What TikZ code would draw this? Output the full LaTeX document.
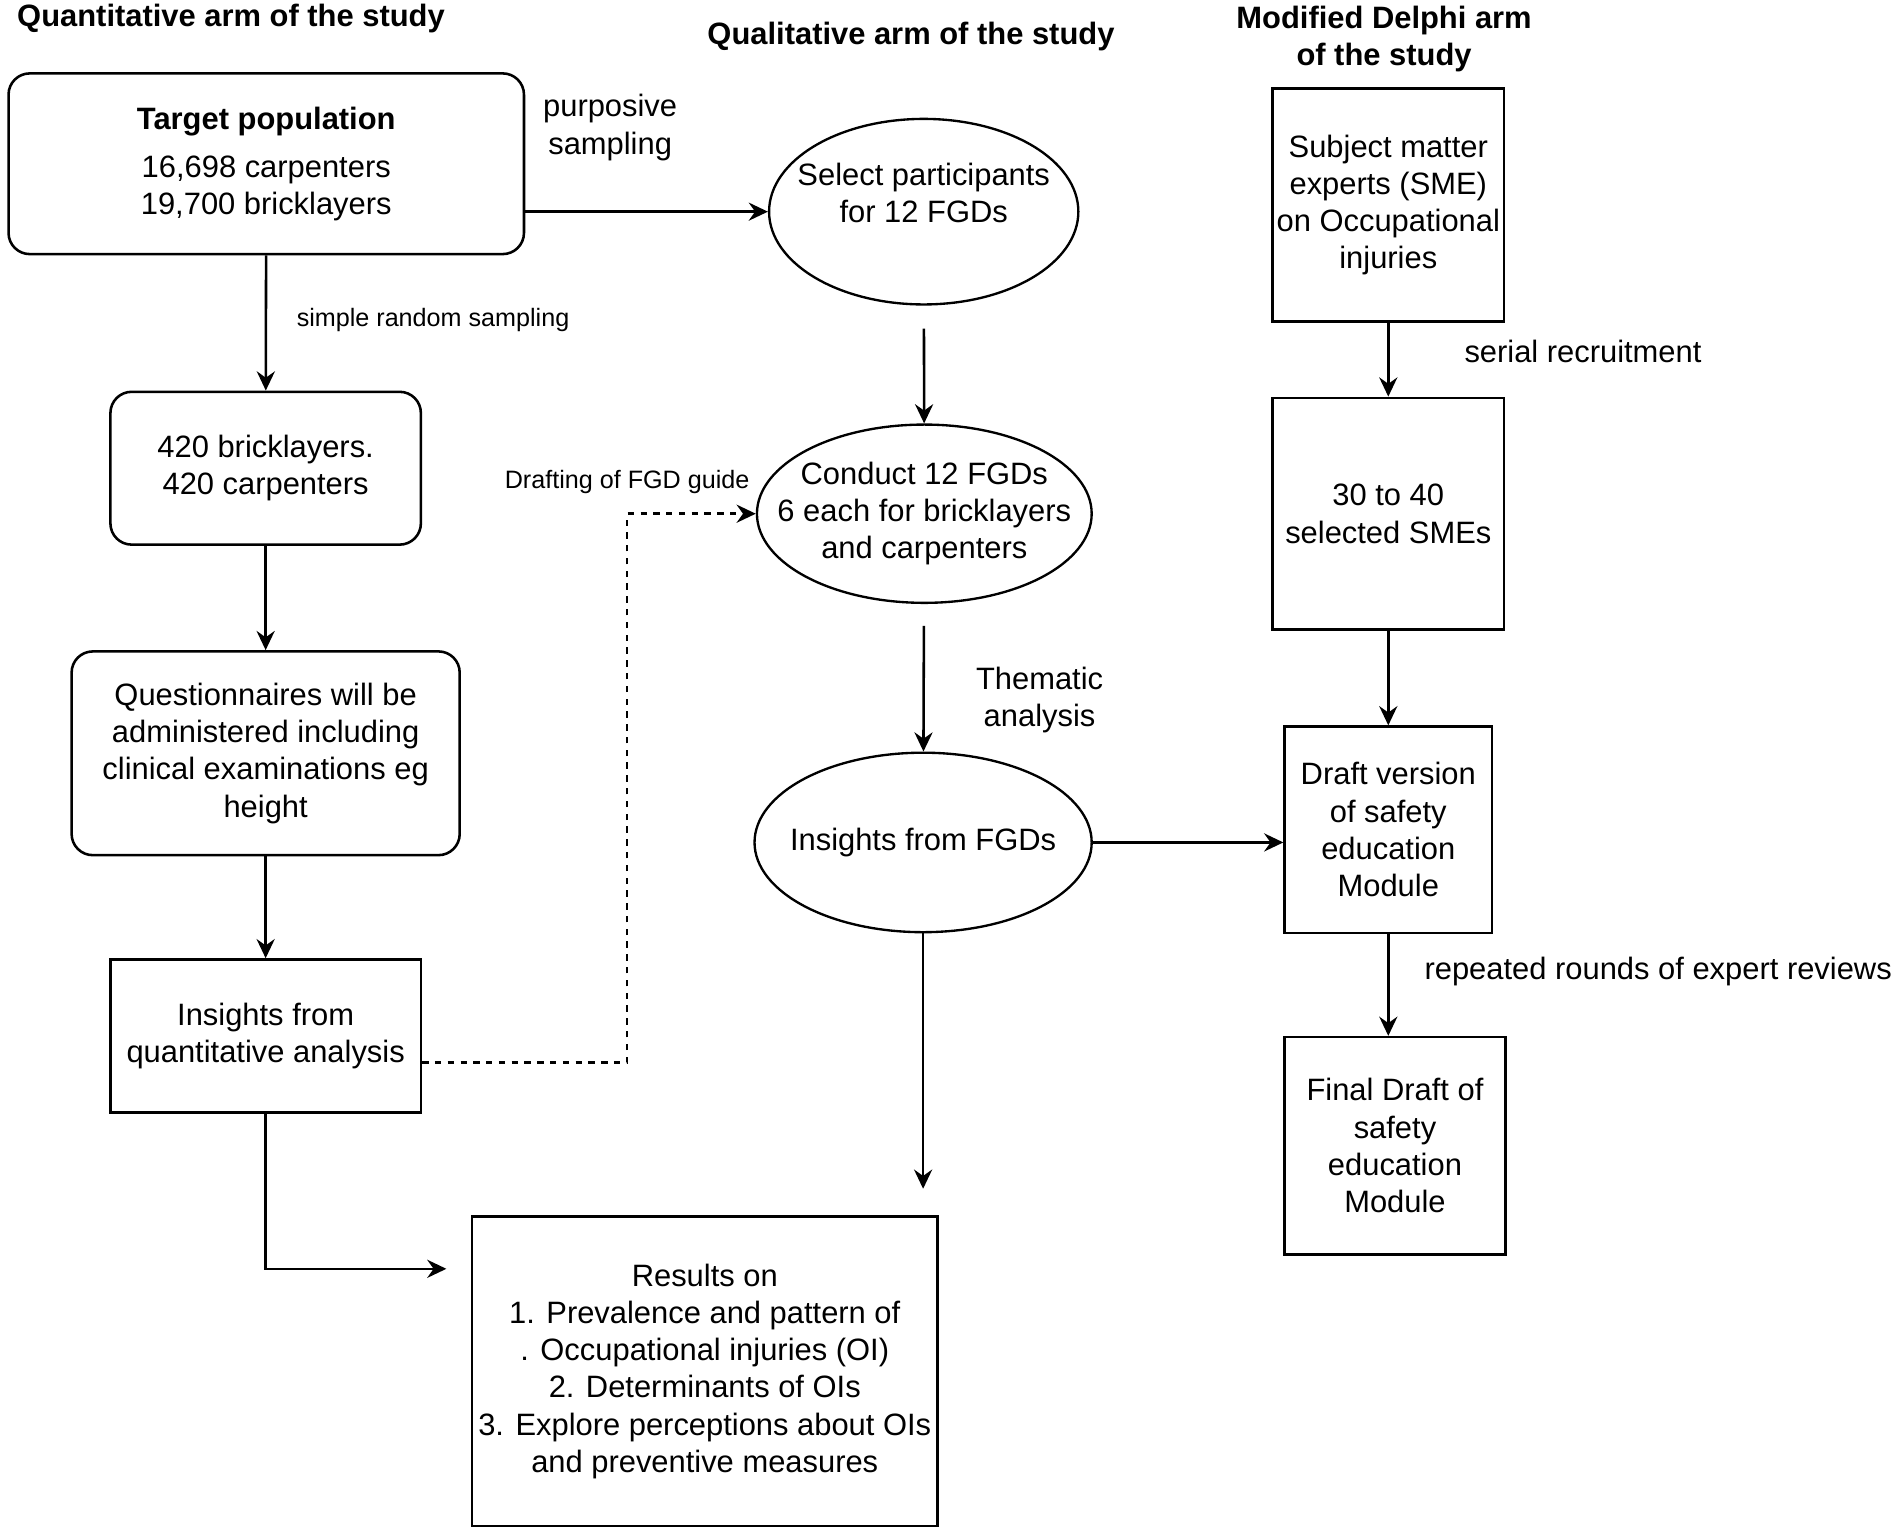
\documentclass[tikz,border=0pt]{standalone}
\usepackage{fontspec}
\setmainfont{Liberation Sans}
\usepackage{tikz}
\usetikzlibrary{shapes.geometric, arrows.meta, positioning}

\newcommand{\mainfs}{\fontsize{14.5}{17.5}\selectfont}
\newcommand{\smallfs}{\fontsize{11.8}{14}\selectfont}

\begin{document}
\begin{tikzpicture}[
  x=0.02cm, y=-0.02cm,
  rbox/.style={rectangle, draw, line width=1.2pt, rounded corners=0.35cm, font=\mainfs, align=center, inner sep=1pt},
  sbox/.style={rectangle, draw, line width=1.2pt, font=\mainfs, align=center, inner sep=1pt},
  oval/.style={ellipse, draw, line width=1.1pt, font=\mainfs, align=center, inner xsep=-40pt, inner ysep=-30pt},
  head/.style={font=\mainfs\bfseries, align=center},
  lbl/.style={font=\mainfs, align=center},
  slbl/.style={font=\smallfs, align=center},
  arr/.style={-{Stealth[length=9pt, width=8.5pt, inset=3pt]}, line width=1.2pt},
]
\useasboundingbox (0,0) rectangle (1568,1267);

\node[head, anchor=west] (hquan) at (8,15)    {Quantitative arm of the study};
\node[head]              (hqual) at (751,30)  {Qualitative arm of the study};
\node[head]              (hdel)  at (1141,32) {Modified Delphi arm\\of the study};

\node[rbox, minimum width=8.5cm, minimum height=2.98cm]  (tgt)   at (219.5,135) {\textbf{Target population}\\[5pt]16,698 carpenters\\19,700 bricklayers};
\node[rbox, minimum width=5.12cm, minimum height=2.52cm] (smp)   at (219,386)     {420 bricklayers.\\420 carpenters};
\node[rbox, minimum width=6.4cm, minimum height=3.36cm]  (quest) at (219,621)     {Questionnaires will be\\administered including\\clinical examinations eg\\height};
\node[sbox, minimum width=5.12cm, minimum height=2.52cm] (qins)  at (219,854)     {Insights from\\quantitative analysis};

\node[oval, minimum width=5.1cm, minimum height=3.06cm]   (sel)   at (761.5,174.5) {Select participants\\for 12 FGDs\\~};
\node[oval, minimum width=5.52cm, minimum height=2.94cm] (fgd)   at (762,423.5)   {Conduct 12 FGDs\\6 each for bricklayers\\and carpenters};
\node[oval, minimum width=5.56cm, minimum height=2.96cm] (fins)  at (761,694.5)   {Insights from FGDs};

\node[sbox, minimum width=7.68cm, minimum height=5.1cm]  (res)   at (581,1130.5)  {Results on\\1. Prevalence and pattern of\\. Occupational injuries (OI)\\2. Determinants of OIs\\3. Explore perceptions about OIs\\and preventive measures};

\node[sbox, minimum width=3.82cm, minimum height=3.84cm] (sme)   at (1144.5,169)  {Subject matter\\experts (SME)\\on Occupational\\injuries};
\node[sbox, minimum width=3.82cm, minimum height=3.82cm] (smes)  at (1144.5,423.5) {30 to 40\\selected SMEs};
\node[sbox, minimum width=3.42cm, minimum height=3.4cm]  (draft) at (1144.5,684)  {Draft version\\of safety\\education\\Module};
\node[sbox, minimum width=3.64cm, minimum height=3.58cm] (final) at (1150,944.5)  {Final Draft of\\safety\\education\\Module};

\coordinate (fend) at (761,980);
\coordinate (rend) at (368,1046);
\coordinate (dsh)  at (517,876);

\node[lbl]  (lpurp) at (503,105)  {purposive\\sampling};
\node[slbl] (lsrs)  at (357,264)  {simple random sampling};
\node[slbl] (ldraf) at (517,397)  {Drafting of FGD guide};
\node[lbl]  (lthem) at (857,577)  {Thematic\\analysis};
\node[lbl]  (lser)  at (1305,290) {serial recruitment};
\node[lbl]  (lrep)  at (1367,801) {repeated rounds of expert reviews};

\draw[arr] (tgt) -- (smp);
\draw[arr] (smp) -- (quest);
\draw[arr] (quest) -- (qins);
\draw[arr] (tgt.east |- sel.west) -- (sel.west);
\draw[arr, shorten <=0.38cm] (sel) -- (fgd);
\draw[arr, shorten <=0.36cm] (fgd) -- (fins);
\draw[arr] (fins.east) -- (fins.east -| draft.west);
\draw[arr] (fins) -- (fend);
\draw[arr] (qins.south) |- (rend);
\draw[arr, dashed] (qins.east |- dsh) -- (dsh) |- (fgd.west);
\draw[arr] (sme) -- (smes);
\draw[arr] (smes) -- (draft);
\draw[arr] (draft.south) -- (draft.south |- final.north);
\end{tikzpicture}
\end{document}
